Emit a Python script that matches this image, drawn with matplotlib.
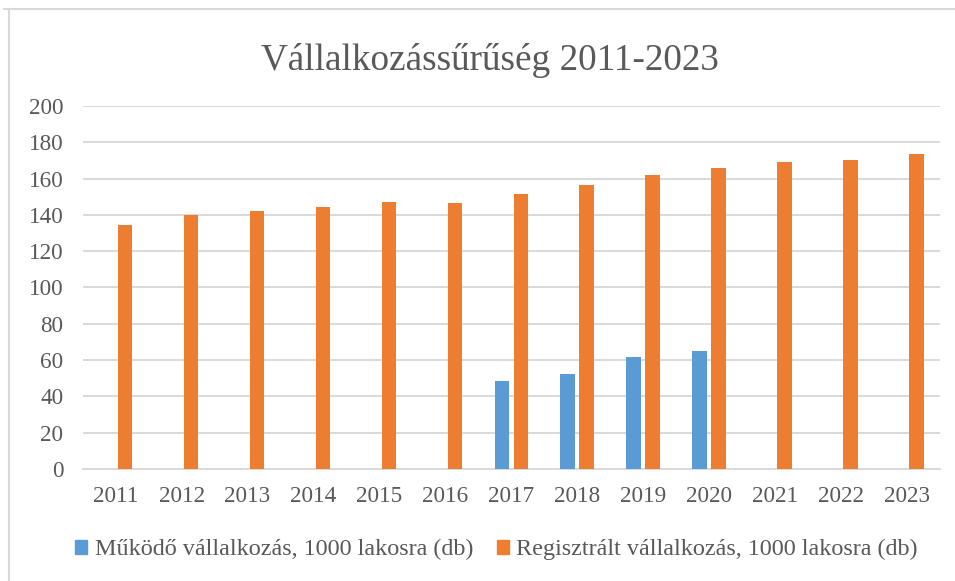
import numpy as np
import matplotlib.pyplot as plt
from matplotlib.lines import Line2D
from matplotlib.patches import Patch

years = ["2011", "2012", "2013", "2014", "2015", "2016", "2017",
         "2018", "2019", "2020", "2021", "2022", "2023"]
# működő vállalkozás: only 2017-2020 has data
mukodo = [np.nan, np.nan, np.nan, np.nan, np.nan, np.nan, 48.2, 52.5, 61.5, 65.0, np.nan, np.nan, np.nan]
regisztralt = [134.3, 139.7, 142.0, 144.2, 147.3, 146.8, 151.3, 156.3, 161.8, 165.7, 169.1, 170.5, 173.8]
yticks = [0, 20, 40, 60, 80, 100, 120, 140, 160, 180, 200]

blue = "#5B9BD5"
orange = "#ED7D31"
grid = "#D9D9D9"
txt = "#595959"

plt.rcParams['font.family'] = ['Liberation Serif', 'DejaVu Serif']

fig = plt.figure(figsize=(9.55, 5.81), dpi=100)
ax = fig.add_axes([0.0866, 0.1928, 0.8975, 0.6248])

x = np.arange(len(years))
w = 0.22
off = 0.144
ax.bar(x - off, mukodo, w, color=blue, zorder=3)
ax.bar(x + off, regisztralt, w, color=orange, zorder=3)

ax.set_xlim(-0.5, len(years) - 0.5)
ax.set_ylim(0, 200)
ax.set_yticks(yticks)
ax.set_xticks(x)
ax.set_xticklabels(years)
ax.grid(axis='y', color=grid, lw=1.4, zorder=0)
for s in ['top', 'right', 'left']:
    ax.spines[s].set_visible(False)
ax.spines['bottom'].set_color(grid)
ax.spines['bottom'].set_linewidth(1.4)
ax.tick_params(axis='both', length=0, labelsize=16.7, colors=txt)
ax.tick_params(axis='y', pad=14)
ax.tick_params(axis='x', pad=12)

fig.text(0.513, 0.896, "Vállalkozássűrűség 2011-2023", ha='center', va='center',
         fontsize=26.8, color=txt)

handles = [Patch(color=blue), Patch(color=orange)]
labels = ["Működő vállalkozás, 1000 lakosra (db)",
          "Regisztrált vállalkozás, 1000 lakosra (db)"]
fig.legend(handles, labels, loc='center', bbox_to_anchor=(0.52, 0.054), ncol=2,
           frameon=False, fontsize=17.4, labelcolor=txt, handlelength=0.5,
           handleheight=0.5, handletextpad=0.3, columnspacing=1.0)

# partial chart border (top and left)
fig.add_artist(Line2D([4 / 955, 1], [1 - 9.3 / 581] * 2, color=grid, lw=1.5))
fig.add_artist(Line2D([8.7 / 955] * 2, [0, 1 - 9.3 / 581], color=grid, lw=1.5))

fig.savefig("out.png", dpi=100, facecolor='white')
